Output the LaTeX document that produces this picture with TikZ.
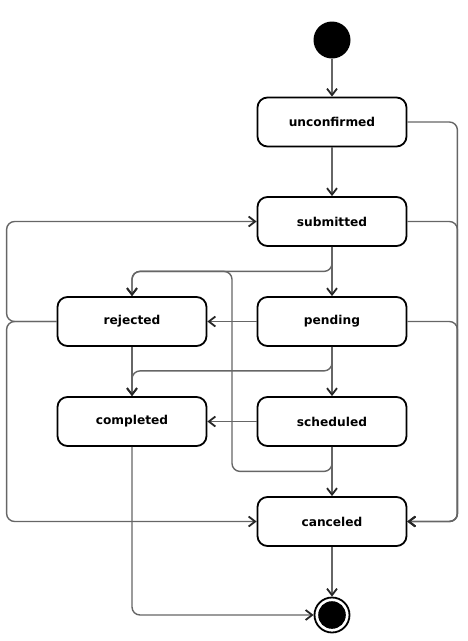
\documentclass[tikz,border=0pt]{standalone}
\usepackage{fontspec}
\setmainfont{DejaVu Sans}
\usetikzlibrary{arrows.meta}
\begin{document}
\begin{tikzpicture}[x=1pt,y=1pt,
    state/.style={draw,line width=1.8pt,rounded corners=10pt,minimum width=149pt,minimum height=49pt,font=\fontsize{12.2}{14}\selectfont\bfseries},
    flow/.style={draw=black!60,line width=1.4pt,rounded corners=8pt,-{Straight Barb[length=6.5pt,width=10pt,line width=1.8pt,color=black!85]}}]
    \useasboundingbox (0,0) rectangle (468,-641);
    \node[circle,fill=black,minimum size=37pt,inner sep=0pt] (start) at (332,-40) {};
    \node[state] (unconfirmed) at (332,-122) {unconfirmed};
    \node[state] (submitted) at (332,-221.5) {submitted};
    \node[state] (rejected) at (132,-321.5) {rejected};
    \node[state] (pending) at (332,-321.5) {pending};
    \node[state] (completed) at (132,-421.5) {completed};
    \node[state] (scheduled) at (332,-421.5) {scheduled};
    \node[state] (canceled) at (332,-521.5) {canceled};
    \node[circle,draw,line width=1.8pt,minimum size=35pt,inner sep=0pt] (end) at (332,-615) {};
    \fill (end.center) circle (13.8);
    \draw[flow] (start) -- (unconfirmed);
    \draw[flow] (unconfirmed) -- (submitted);
    \draw[flow] (submitted) -- (pending);
    \draw[flow] (pending) -- (scheduled);
    \draw[flow] (scheduled) -- (canceled);
    \draw[flow] (canceled) -- (end);
    \draw[flow] (pending) -- (rejected);
    \draw[flow] (scheduled) -- (completed);
    \draw[flow] (rejected) -- (completed);
    \draw[flow] (submitted.south) -- ++(0,-24.5) -| (rejected.north);
    \draw[flow] (scheduled.south) -- ++(0,-24.5) -| ++(-100,200) -| (rejected.north);
    \draw[flow] (pending.south) -- ++(0,-24) -| (completed.north);
    \draw[flow] (completed.south) |- (end.west);
    \draw[flow] (rejected.west) -- ++(-50,0) |- (submitted.west);
    \draw[flow] (rejected.west) -- ++(-50,0) |- (canceled.west);
    \draw[flow] (unconfirmed.east) -- ++(50,0) |- (canceled.east);
    \draw[flow] (submitted.east) -- ++(50,0) |- (canceled.east);
    \draw[flow] (pending.east) -- ++(50,0) |- (canceled.east);
\end{tikzpicture}
\end{document}
